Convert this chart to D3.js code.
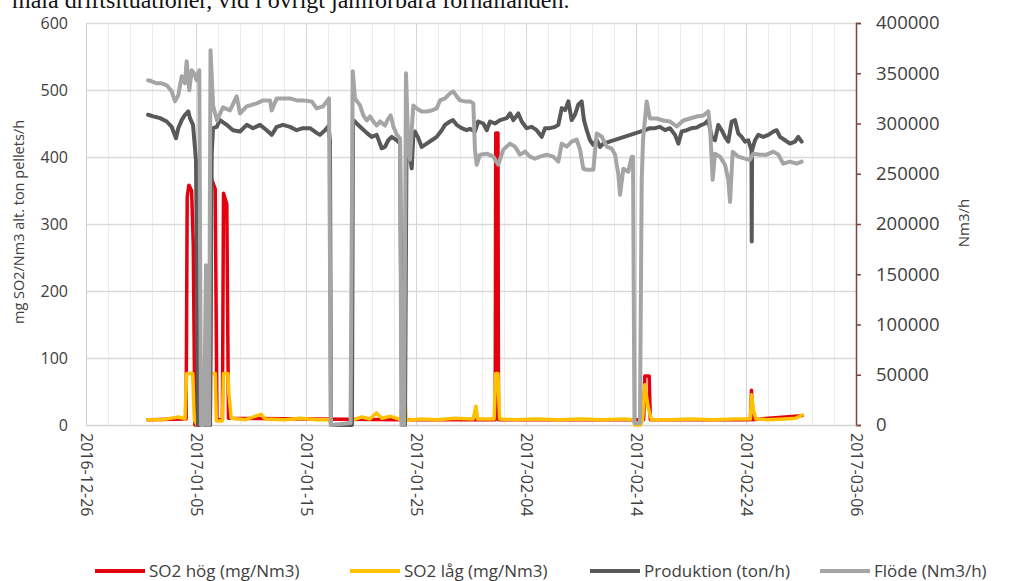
<!DOCTYPE html>
<html>
<head>
<meta charset="utf-8">
<script src="https://cdn.jsdelivr.net/npm/d3@7"></script>
<style>
  body { margin: 0; background: #fff; }
  svg { display: block; }
  .tick text { font-family: 'Open Sans', sans-serif; fill: #404040; }
</style>
</head>
<body>
<div class="chart"></div>
<script>
'use strict';

// day offsets from 2016-12-26
var startDate = Date.UTC(2016, 11, 26);
var xTickLabels = ['2016-12-26', '2017-01-05', '2017-01-15', '2017-01-25', '2017-02-04', '2017-02-14', '2017-02-24', '2017-03-06'];
var leftTicks = [0, 100, 200, 300, 400, 500, 600];
var rightTicks = [0, 50000, 100000, 150000, 200000, 250000, 300000, 350000, 400000];
var seriesNames = ['SO2 hög (mg/Nm3)', 'SO2 låg (mg/Nm3)', 'Produktion (ton/h)', 'Flöde (Nm3/h)'];
var seriesColors = ['#e3000f', '#ffc000', '#595959', '#a5a5a5'];

var so2Hog = [
  [5.6, 8], [9.1, 9], [9.2, 340], [9.35, 358], [9.6, 350], [9.75, 270], [9.9, 0],
  [11.3, 0], [11.4, 368], [11.75, 352], [11.9, 8], [12.4, 8], [12.5, 346], [12.8, 330], [12.95, 10],
  [28.8, 8], [28.9, 95], [29.0, 8],
  [37.2, 8], [37.25, 436], [37.45, 436], [37.5, 8],
  [50.7, 8], [50.8, 73], [51.2, 73], [51.3, 8],
  [60.4, 8], [60.5, 52], [60.6, 8], [65.1, 14]
];

var so2Lag = [
  [5.6, 8], [7.0, 8], [8.4, 12], [9.0, 9], [9.15, 77], [9.7, 77], [9.85, 8], [10.1, 0],
  [11.2, 0], [11.3, 77], [11.75, 77], [11.85, 6], [12.4, 6], [12.5, 77], [12.9, 77], [13.0, 45], [13.2, 10],
  [14.5, 8], [15.9, 16], [16.3, 9], [18.0, 8], [19.5, 10], [21.0, 8], [22.1, 8], [22.3, 0],
  [24.1, 0], [24.3, 8], [25.1, 12], [25.8, 9], [26.4, 18], [26.9, 10], [27.7, 13], [28.6, 8],
  [28.85, 60], [28.95, 60], [29.1, 7], [30.5, 9], [32.0, 8], [33.5, 10], [35.2, 9], [35.45, 28], [35.6, 9],
  [37.1, 9], [37.25, 77], [37.45, 77], [37.6, 9], [39.0, 8], [41.0, 9], [43.0, 8], [45.0, 9],
  [47.0, 8], [49.0, 9], [49.8, 8], [49.9, 0], [50.4, 0], [50.6, 8], [50.8, 60], [51.1, 27], [51.4, 8],
  [53.0, 8], [55.0, 9], [57.0, 8], [59.0, 9], [60.4, 9], [60.5, 45], [60.7, 20], [60.9, 9],
  [62.0, 8], [63.5, 9], [64.5, 10], [65.1, 15]
];

var produktion = [
  [5.64, 463], [6.27, 460], [6.73, 458], [7.34, 453], [7.79, 445], [8.18, 428], [8.39, 443],
  [8.70, 455], [9.0, 463], [9.30, 468], [9.45, 458], [9.73, 448], [10.0, 395], [10.06, 272], [10.18, 0],
  [11.27, 0], [11.43, 406], [11.55, 443], [11.88, 445], [12.18, 455], [12.79, 448], [13.36, 440],
  [14.0, 438], [14.61, 448], [15.18, 443], [15.82, 448], [16.43, 440], [16.88, 433], [17.34, 445],
  [17.91, 448], [18.55, 445], [19.15, 440], [19.73, 443], [20.36, 443], [20.97, 436], [21.27, 433],
  [21.73, 440], [22.03, 446], [22.18, 425], [22.27, 0],
  [24.18, 0], [24.27, 455], [24.45, 453], [24.73, 448], [25.06, 443], [25.52, 436], [25.97, 430],
  [26.43, 433], [26.88, 413], [27.18, 415], [27.48, 425], [27.79, 430], [28.25, 425], [28.55, 420],
  [28.73, 0], [29.0, 0], [29.14, 425], [29.36, 410], [29.61, 383], [29.75, 430], [29.91, 438],
  [30.21, 428], [30.52, 415], [30.97, 420], [31.43, 425], [31.88, 430], [32.34, 440], [32.64, 448],
  [33.09, 453], [33.36, 455], [33.7, 448], [34.15, 443], [34.61, 440], [34.91, 442], [35.36, 438],
  [35.66, 453], [36.12, 450], [36.43, 440], [36.73, 453], [37.18, 450], [37.64, 455], [38.25, 458],
  [38.55, 465], [38.85, 455], [39.3, 465], [39.61, 453], [40.06, 443], [40.52, 445], [40.97, 440],
  [41.43, 430], [41.73, 443], [42.18, 443], [42.64, 445], [42.94, 448], [43.25, 473], [43.55, 470],
  [43.85, 483], [44.15, 455], [44.45, 463], [44.75, 478], [45.06, 483], [45.27, 455], [45.52, 440],
  [45.82, 425], [46.12, 418], [46.43, 425], [46.73, 415], [47.03, 420],
  [50.82, 440], [51.27, 443], [51.73, 443], [52.18, 445], [52.64, 440], [53.09, 443], [53.55, 433],
  [53.85, 420], [54.15, 438], [54.61, 440], [55.06, 443], [55.52, 444], [55.97, 448], [56.27, 450],
  [56.57, 455], [56.88, 430], [57.18, 425], [57.48, 448], [57.79, 440], [58.09, 430], [58.39, 423],
  [58.7, 453], [59.0, 455], [59.3, 435], [59.61, 430], [59.91, 423], [60.21, 425], [60.5, 410],
  [60.52, 274], [60.55, 410], [60.82, 425], [61.12, 433], [61.57, 430], [62.03, 433], [62.48, 438],
  [62.79, 440], [63.09, 430], [63.55, 425], [64.0, 420], [64.45, 423], [64.75, 430], [65.06, 423]
];

var flode = [
  [5.64, 343000], [5.97, 342000], [6.43, 340000], [6.88, 340000], [7.34, 338000], [7.79, 332000],
  [8.09, 322000], [8.39, 328000], [8.70, 347000], [9.0, 340000], [9.15, 362000], [9.39, 333000],
  [9.61, 353000], [9.82, 350000], [10.06, 343000], [10.30, 353000], [10.45, 0], [10.73, 0],
  [10.91, 159000], [11.05, 0], [11.18, 0], [11.32, 373000], [11.55, 318000], [11.91, 303000],
  [12.45, 316000], [13.09, 313000], [13.7, 327000], [14.0, 310000], [14.61, 317000], [15.52, 320000],
  [16.09, 323000], [16.73, 323000], [16.88, 313000], [17.34, 325000], [18.55, 325000], [19.15, 323000],
  [19.73, 323000], [20.52, 322000], [20.97, 315000], [21.55, 317000], [22.09, 325000], [22.27, 0],
  [24.05, 2000], [24.25, 352000], [24.45, 325000], [24.91, 318000], [25.21, 308000], [25.52, 303000],
  [25.82, 307000], [26.12, 302000], [26.43, 298000], [26.73, 302000], [27.18, 298000], [27.48, 305000],
  [27.7, 308000], [27.94, 297000], [28.25, 289000], [28.55, 285000], [28.68, 0], [28.91, 0],
  [29.09, 350000], [29.27, 287000], [29.45, 264000], [29.75, 318000], [30.06, 315000], [30.52, 312000],
  [30.97, 312000], [31.43, 313000], [31.88, 315000], [32.18, 323000], [32.64, 325000], [33.09, 330000],
  [33.39, 332000], [33.7, 327000], [34.0, 323000], [34.45, 322000], [34.91, 322000], [35.21, 320000],
  [35.36, 274000], [35.52, 259000], [35.82, 269000], [36.43, 270000], [37.03, 267000], [37.48, 259000],
  [37.94, 274000], [38.55, 280000], [39.0, 277000], [39.45, 269000], [39.91, 272000], [40.36, 267000],
  [40.82, 265000], [41.27, 267000], [41.88, 269000], [42.48, 267000], [42.94, 262000], [43.25, 280000],
  [43.7, 277000], [44.15, 282000], [44.61, 284000], [44.91, 274000], [45.21, 255000], [45.52, 254000],
  [46.12, 254000], [46.43, 290000], [46.88, 287000], [47.34, 277000], [47.79, 275000], [48.09, 269000],
  [48.39, 250000], [48.55, 229000], [48.85, 255000], [49.3, 252000], [49.61, 267000], [49.73, 267000],
  [49.86, 2000], [50.36, 2000], [50.52, 244000], [50.64, 284000], [50.97, 322000], [51.27, 305000],
  [51.88, 305000], [52.48, 303000], [53.09, 302000], [53.7, 297000], [54.3, 303000], [54.91, 305000],
  [55.52, 307000], [56.12, 308000], [56.57, 312000], [56.73, 297000], [56.97, 244000], [57.18, 270000],
  [57.64, 267000], [58.09, 259000], [58.39, 244000], [58.55, 222000], [58.79, 272000], [59.3, 267000],
  [59.91, 265000], [60.36, 264000], [60.66, 270000], [61.27, 269000], [61.88, 269000], [62.48, 272000],
  [62.94, 269000], [63.39, 260000], [64.0, 262000], [64.61, 260000], [65.06, 262000]
];

function day(d) { return new Date(startDate + d * 864e5); }

var svg = d3.select('.chart').append('svg')
    .attr('width', 1014)
    .attr('height', 581);

var x = d3.scaleUtc()
    .domain([day(0), day(70)])
    .range([86, 856]);
var yL = d3.scaleLinear().domain([0, 600]).range([425, 23]);
var yR = d3.scaleLinear().domain([0, 400000]).range([425, 23]);

// cropped caption line above the chart
svg.append('text')
    .attr('x', 12)
    .attr('y', 8)
    .style('font-family', "'Liberation Serif', serif")
    .style('font-size', '24px')
    .attr('fill', '#111')
    .text('mala driftsituationer, vid i övrigt jämförbara förhållanden.');

// gridlines
var grid = svg.append('g');
grid.selectAll('line.v')
    .data(d3.range(0, 71, 2))
    .enter().append('line')
      .attr('class', 'v')
      .attr('x1', function(d) { return Math.round(x(day(d))) + 0.5; })
      .attr('x2', function(d) { return Math.round(x(day(d))) + 0.5; })
      .attr('y1', 23)
      .attr('y2', 425)
      .attr('stroke', function(d) { return d % 10 === 0 ? '#d4d4d4' : '#ececec'; })
      .attr('stroke-width', 1);

grid.selectAll('line.h')
    .data(leftTicks)
    .enter().append('line')
      .attr('class', 'h')
      .attr('x1', 86)
      .attr('x2', 856)
      .attr('y1', function(d) { return Math.round(yL(d)) + 0.5; })
      .attr('y2', function(d) { return Math.round(yL(d)) + 0.5; })
      .attr('stroke', '#d9d9d9')
      .attr('stroke-width', 1.3);

// left axis
var yAxisL = d3.axisLeft(yL)
    .tickValues(leftTicks)
    .tickSize(0)
    .tickPadding(18);
var gL = svg.append('g')
    .attr('transform', 'translate(86,0)')
    .call(yAxisL);
gL.select('.domain').attr('stroke', '#d0d0d0');
gL.selectAll('.tick text').style('font-size', '16px');

// right axis
var yAxisR = d3.axisRight(yR)
    .tickValues(rightTicks)
    .tickFormat(d3.format('d'))
    .tickSize(5)
    .tickPadding(15);
var gR = svg.append('g')
    .attr('transform', 'translate(856,0)')
    .call(yAxisR);
gR.select('.domain').attr('stroke', '#7a4636').attr('stroke-width', 1.5);
gR.selectAll('.tick line').attr('stroke', '#7a4636').attr('stroke-width', 1.5);
gR.selectAll('.tick text').style('font-size', '18.5px').attr('fill', '#262626');

// x axis
var xAxis = d3.axisBottom(x)
    .tickValues(xTickLabels.map(function(s) { return d3.utcParse('%Y-%m-%d')(s); }))
    .tickFormat(d3.utcFormat('%Y-%m-%d'))
    .tickSize(0);
var gX = svg.append('g')
    .attr('transform', 'translate(0,425)')
    .call(xAxis);
gX.select('.domain').attr('stroke', '#d0d0d0');
gX.selectAll('.tick text')
    .style('font-size', '16px')
    .attr('text-anchor', 'start')
    .attr('transform', 'rotate(90)')
    .attr('x', 8)
    .attr('y', 0)
    .attr('dy', '0.35em');

// axis titles
svg.append('text')
    .attr('transform', 'translate(24,222) rotate(-90)')
    .attr('text-anchor', 'middle')
    .style('font-family', "'Open Sans', sans-serif")
    .style('font-size', '14.5px')
    .attr('fill', '#404040')
    .text('mg SO2/Nm3 alt. ton pellets/h');

svg.append('text')
    .attr('transform', 'translate(969,223) rotate(-90)')
    .attr('text-anchor', 'middle')
    .style('font-family', "'Open Sans', sans-serif")
    .style('font-size', '15px')
    .attr('fill', '#404040')
    .text('Nm3/h');

// series
function lineFor(yScale) {
  return d3.line()
      .x(function(d) { return x(day(d[0])); })
      .y(function(d) { return yScale(d[1]); });
}

var plot = svg.append('g')
    .attr('fill', 'none')
    .attr('stroke-linejoin', 'round')
    .attr('stroke-linecap', 'round');

plot.append('path').attr('d', lineFor(yL)(so2Hog))
    .attr('stroke', seriesColors[0]).attr('stroke-width', 3.5);
plot.append('path').attr('d', lineFor(yL)(so2Lag))
    .attr('stroke', seriesColors[1]).attr('stroke-width', 3.5);
plot.append('path').attr('d', lineFor(yL)(produktion))
    .attr('stroke', seriesColors[2]).attr('stroke-width', 4);
plot.append('path').attr('d', lineFor(yR)(flode))
    .attr('stroke', seriesColors[3]).attr('stroke-width', 4);

// legend
var legendX = [95, 350, 590, 820];
var legend = svg.append('g')
    .selectAll('g')
    .data(seriesNames)
    .enter().append('g')
      .attr('transform', function(d, i) { return 'translate(' + legendX[i] + ',571)'; });
legend.append('line')
    .attr('x1', 0).attr('x2', 50)
    .attr('stroke', function(d, i) { return seriesColors[i]; })
    .attr('stroke-width', 4);
legend.append('text')
    .attr('x', 54)
    .attr('dy', '0.35em')
    .style('font-family', "'Open Sans', sans-serif")
    .style('font-size', '17px')
    .attr('fill', '#404040')
    .text(function(d) { return d; });
</script>
</body>
</html>
